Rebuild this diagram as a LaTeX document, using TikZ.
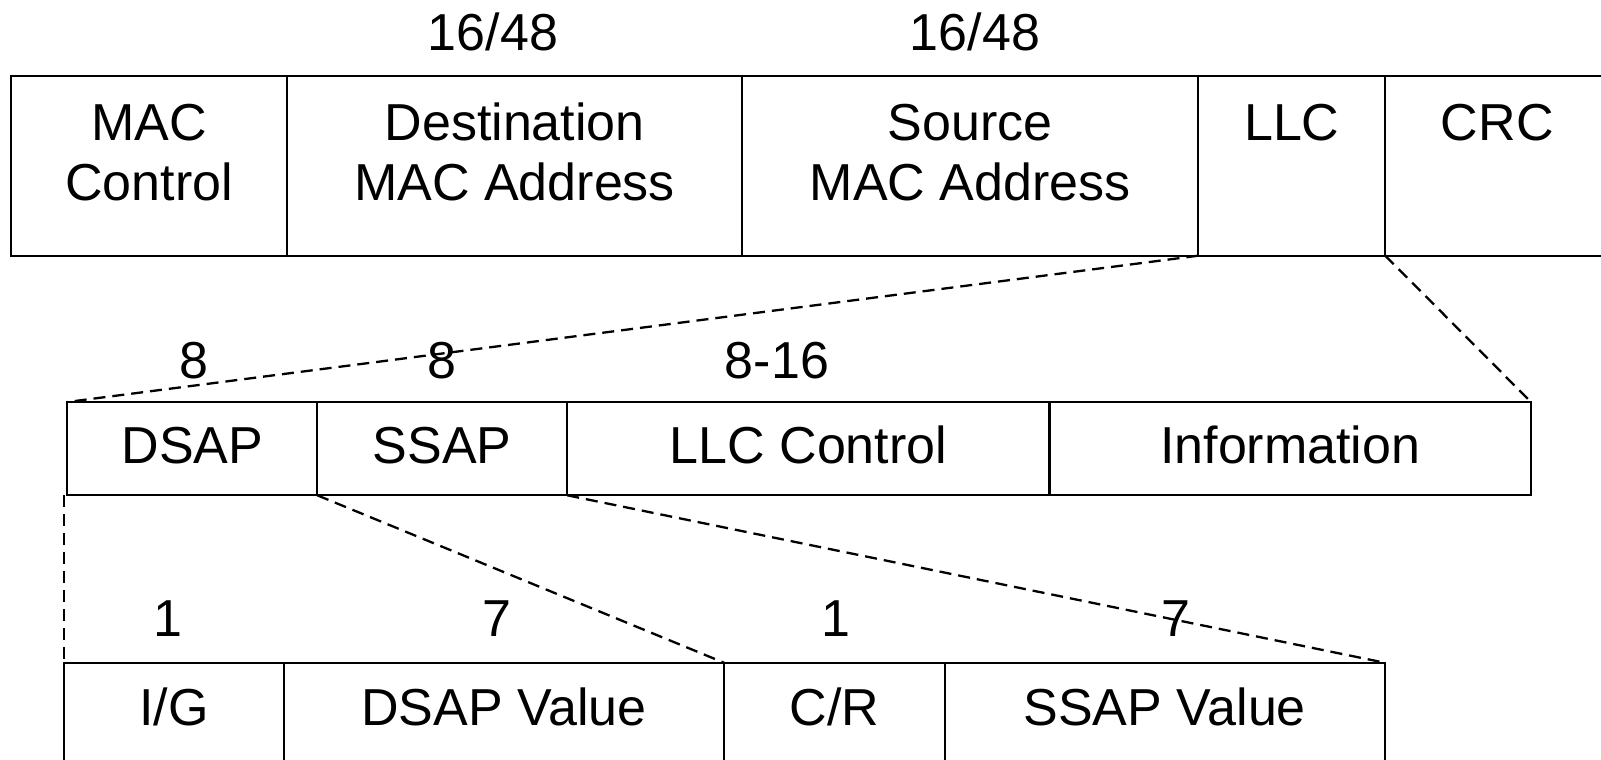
\documentclass[tikz,border=0pt]{standalone}
\usepackage{fontspec}
\setmainfont{Liberation Sans}
\usetikzlibrary{calc}

\tikzset{
  field/.style={draw, line width=2.3pt, inner sep=0pt, outer sep=0pt, anchor=north west},
  txt/.style={font=\fontsize{52}{60}\selectfont, inner sep=0pt, outer sep=0pt, anchor=base},
  zoomline/.style={line width=2.3pt, dash pattern=on 12pt off 7pt},
}

\begin{document}
\begin{tikzpicture}[x=1pt, y=-1pt]
  \clip (0,0) rectangle (1601,760);

  % MAC frame
  \node[field, minimum width=276.3pt, minimum height=179.7pt] (mac) at (11,76) {};
  \node[field, minimum width=454.7pt, minimum height=179.7pt] (dst) at (287.3,76) {};
  \node[field, minimum width=456.3pt, minimum height=179.7pt] (src) at (742,76) {};
  \node[field, minimum width=187pt,   minimum height=179.7pt] (llc) at (1198.3,76) {};
  \node[field, minimum width=224pt,   minimum height=179.7pt] (crc) at (1385.3,76) {};

  \node[txt] (mac-a) at ($(mac.north)+(0,64)$) {MAC};
  \node[txt] (mac-b) at ($(mac.north)+(0,124.7)$) {Control};
  \node[txt] (dst-a) at ($(dst.north)+(0,64)$) {Destination};
  \node[txt] (dst-b) at ($(dst.north)+(0,124.7)$) {MAC Address};
  \node[txt] (src-a) at ($(src.north)+(0,64)$) {Source};
  \node[txt] (src-b) at ($(src.north)+(0,124.7)$) {MAC Address};
  \node[txt] (llc-a) at ($(llc.north)+(0,64)$) {LLC};
  \node[txt] (crc-a) at ($(crc.north)+(0,64)$) {CRC};

  \node[txt] (w-dst) at (493,51) {16/48};
  \node[txt] (w-src) at (975,51) {16/48};

  % LLC header
  \node[field, minimum width=250pt,   minimum height=93.3pt] (dsap) at (67.3,402) {};
  \node[field, minimum width=250pt,   minimum height=93.3pt] (ssap) at (317.3,402) {};
  \node[field, minimum width=482.3pt, minimum height=93.3pt] (llcc) at (567.3,402) {};
  \node[field, minimum width=481.4pt, minimum height=93.3pt] (info) at (1049.6,402) {};

  \node[txt] (dsap-t) at ($(dsap.north)+(0,61.5)$) {DSAP};
  \node[txt] (ssap-t) at ($(ssap.north)+(0,61.5)$) {SSAP};
  \node[txt] (llcc-t) at ($(llcc.north)+(0,61.5)$) {LLC Control};
  \node[txt] (info-t) at ($(info.north)+(0,61.5)$) {Information};

  \node[txt] (w-dsap) at (194,378) {8};
  \node[txt] (w-ssap) at (442,378) {8};
  \node[txt] (w-llcc) at (777,378) {8-16};

  % SAP fields
  \node[field, minimum width=220pt,   minimum height=130pt] (ig)   at (64,662.7) {};
  \node[field, minimum width=440pt,   minimum height=130pt] (dval) at (284,662.7) {};
  \node[field, minimum width=220.7pt, minimum height=130pt] (cr)   at (724,662.7) {};
  \node[field, minimum width=440pt,   minimum height=130pt] (sval) at (944.7,662.7) {};

  \node[txt] (ig-t)   at ($(ig.north)+(0,62.3)$)   {I/G};
  \node[txt] (dval-t) at ($(dval.north)+(0,62.3)$) {DSAP Value};
  \node[txt] (cr-t)   at ($(cr.north)+(0,62.3)$)   {C/R};
  \node[txt] (sval-t) at ($(sval.north)+(0,62.3)$) {SSAP Value};

  \node[txt] (w-ig)   at (167.5,636) {1};
  \node[txt] (w-dval) at (497.3,636) {7};
  \node[txt] (w-cr)   at (836,636)   {1};
  \node[txt] (w-sval) at (1176.3,636) {7};

  % expansion lines
  \draw[zoomline] (llc.south west) -- (dsap.north west);
  \draw[zoomline] (crc.south west) -- (info.north east);
  \draw[zoomline] (ig.north west |- dsap.south west) -- (ig.north west);
  \draw[zoomline] (ssap.south west) -- (cr.north west);
  \draw[zoomline] (llcc.south west) -- (sval.north east);
\end{tikzpicture}
\end{document}
